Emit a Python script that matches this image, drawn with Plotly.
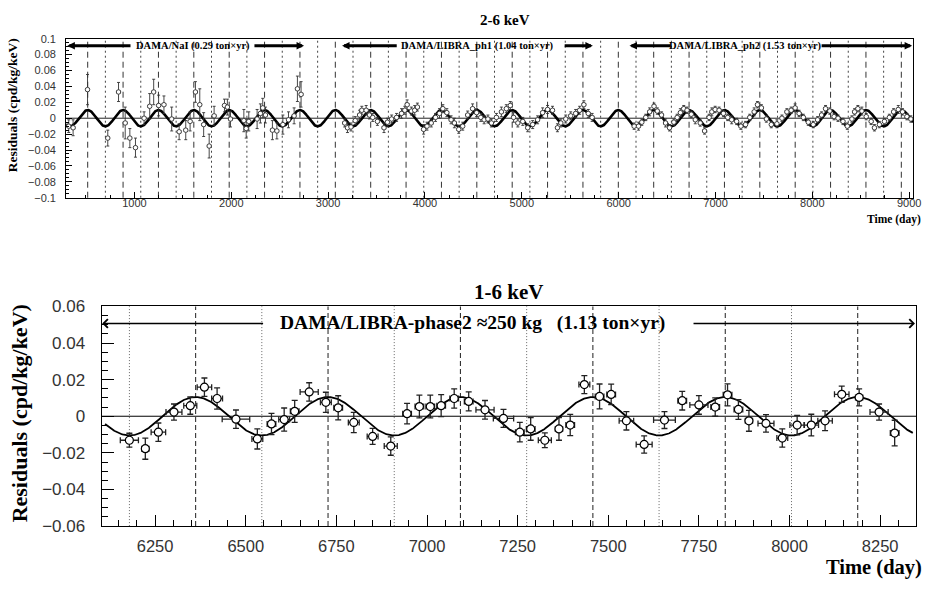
import numpy as np
import plotly.graph_objects as go

W, H = 931, 590
def PX(x): return x / W
def PY(y): return 1 - y / H

SERIF = "Liberation Serif"
SANS = "Liberation Sans"

# ---- model (fit) parameters ----
PERIOD = 365.25
PHASE = 152.5
AMP_TOP = 0.0102
AMP_BOT = 0.0105

# ---- axis ranges ----
TOP_XRANGE = [295, 9040]
BOT_XRANGE = [6103, 8349]

# ---- top panel data (2-6 keV) ----
nai_day = [322, 367, 516, 725, 836, 905, 953, 1011, 1100, 1158, 1199, 1250, 1305, 1385, 1462, 1530,
           1575, 1630, 1675, 1715, 1772, 1823, 1930, 1960, 1992, 2130, 2154, 2181, 2267, 2301, 2325,
           2353, 2425, 2471, 2533, 2591, 2649, 2683, 2721]
nai_res = [-0.010, -0.012, 0.036, -0.025, 0.033, -0.006, -0.025, -0.037, 0.000, 0.015, 0.033, 0.016,
           0.017, -0.001, -0.017, -0.015, -0.004, 0.033, 0.017, -0.008, -0.035, 0.003, 0.016, 0.014,
           -0.001, -0.003, -0.013, -0.004, -0.001, 0.006, 0.013, 0.004, -0.015, -0.016, -0.008,
           -0.002, 0.003, 0.037, 0.030]
nai_err = [0.008, 0.010, 0.019, 0.010, 0.012, 0.020, 0.012, 0.012, 0.008, 0.016, 0.016, 0.013, 0.011,
           0.015, 0.010, 0.012, 0.012, 0.013, 0.020, 0.015, 0.015, 0.012, 0.008, 0.010, 0.010, 0.014,
           0.012, 0.012, 0.012, 0.012, 0.012, 0.010, 0.012, 0.010, 0.012, 0.010, 0.010, 0.016, 0.016]

ph1_day = [3171, 3200, 3236, 3280, 3325, 3348, 3393, 3427, 3461, 3509, 3577, 3612, 3656, 3707, 3758,
           3792, 3816, 3860, 3894, 3922, 3986, 4021, 4065, 4109, 4150, 4185, 4226, 4270, 4304, 4349,
           4390, 4441, 4492, 4533, 4577, 4611, 4650, 4686, 4738, 4789, 4840, 4881, 4915, 4959, 5010,
           5061, 5112, 5163, 5215, 5266, 5317, 5368, 5403, 5454, 5505, 5556, 5597, 5641, 5686, 5726]
ph1_res = [-0.006, -0.012, -0.011, -0.003, 0.004, 0.010, 0.010, 0.004, 0.001, -0.004, -0.012, -0.005,
           -0.001, 0.001, 0.006, 0.010, 0.017, 0.009, 0.010, 0.014, -0.014, -0.010, -0.006, 0.001,
           0.006, 0.012, 0.007, -0.002, -0.006, -0.014, -0.010, 0.004, 0.012, 0.007, 0.001, -0.002,
           -0.001, -0.006, 0.001, 0.008, 0.012, 0.016, 0.001, -0.006, -0.004, -0.012, -0.008, -0.002,
           0.007, 0.011, 0.010, -0.012, -0.006, -0.001, 0.003, 0.006, 0.010, 0.017, 0.006, 0.001]
ph1_err = [0.005, 0.006, 0.005, 0.005, 0.006, 0.005, 0.006, 0.005, 0.005, 0.005, 0.006, 0.005, 0.005,
           0.005, 0.006, 0.005, 0.006, 0.005, 0.006, 0.005, 0.006, 0.005, 0.005, 0.005, 0.006, 0.005,
           0.005, 0.005, 0.006, 0.005, 0.005, 0.005, 0.006, 0.005, 0.005, 0.005, 0.005, 0.005, 0.005,
           0.006, 0.005, 0.005, 0.006, 0.005, 0.005, 0.005, 0.005, 0.005, 0.006, 0.005, 0.005, 0.005,
           0.005, 0.005, 0.005, 0.005, 0.005, 0.005, 0.005, 0.005]

ph2_day = [6160, 6205, 6239, 6280, 6320, 6365, 6399, 6443, 6484, 6525, 6570, 6604, 6637, 6672, 6706,
           6750, 6791, 6842, 6887, 6934, 6962, 6996, 7037, 7082, 7126, 7167, 7218, 7262, 7310, 7354,
           7399, 7433, 7474, 7525, 7576, 7634, 7686, 7737, 7781, 7822, 7863, 7907, 7958, 8009, 8054,
           8095, 8136, 8180, 8224, 8265, 8316, 8361, 8408, 8436, 8470, 8511, 8556, 8607, 8641, 8692,
           8744, 8795, 8839, 8887, 8931, 8976, 9017]
ph2_res = [-0.010, -0.010, -0.005, 0.001, 0.008, 0.015, 0.009, 0.004, -0.006, -0.012, -0.005, 0.001,
           0.007, 0.012, 0.010, 0.005, -0.002, -0.006, -0.016, 0.001, 0.008, 0.011, 0.010, 0.006,
           0.001, -0.002, -0.004, -0.010, -0.008, 0.001, 0.008, 0.017, 0.013, -0.001, -0.008, -0.007,
           0.000, 0.008, 0.010, 0.013, 0.006, 0.001, -0.005, -0.008, -0.002, 0.004, 0.012, 0.009,
           0.002, 0.000, -0.004, -0.010, -0.001, 0.008, 0.012, 0.009, 0.002, -0.004, -0.012, -0.008,
           -0.004, 0.001, 0.008, 0.011, 0.008, 0.002, -0.001]
ph2_err = [0.004, 0.005, 0.004, 0.004, 0.005, 0.004, 0.004, 0.004, 0.005, 0.004, 0.004, 0.004, 0.005,
           0.004, 0.004, 0.004, 0.005, 0.004, 0.004, 0.004, 0.005, 0.004, 0.004, 0.004, 0.004, 0.005,
           0.004, 0.004, 0.004, 0.004, 0.005, 0.004, 0.004, 0.004, 0.004, 0.005, 0.004, 0.004, 0.004,
           0.005, 0.004, 0.004, 0.004, 0.004, 0.004, 0.004, 0.004, 0.004, 0.004, 0.004, 0.004, 0.004,
           0.004, 0.004, 0.004, 0.005, 0.004, 0.004, 0.004, 0.004, 0.004, 0.004, 0.004, 0.005, 0.004,
           0.004, 0.004]

# ---- bottom panel data (1-6 keV, DAMA/LIBRA-phase2) ----
bot_day = [6179, 6223, 6259, 6302, 6347, 6386, 6421, 6473, 6532, 6571, 6606, 6635, 6675, 6721, 6755,
           6798, 6850, 6900, 6945, 6979, 7009, 7039, 7075, 7115, 7160, 7211, 7256, 7286, 7325, 7364,
           7395, 7434, 7476, 7508, 7550, 7599, 7655, 7704, 7750, 7795, 7829, 7859, 7888, 7935, 7980,
           8021, 8060, 8098, 8144, 8192, 8247, 8290]
bot_res = [-0.0131, -0.0177, -0.0087, 0.0023, 0.0058, 0.0159, 0.0097, -0.0016, -0.0124, -0.0042,
           -0.0018, 0.0027, 0.0133, 0.0076, 0.0046, -0.0034, -0.0110, -0.0163, 0.0014, 0.0053,
           0.0053, 0.0058, 0.0097, 0.0081, 0.0035, -0.0012, -0.0087, -0.0069, -0.0131, -0.0069,
           -0.0048, 0.0173, 0.0108, 0.0119, -0.0025, -0.0154, -0.0021, 0.0085, 0.0062, 0.0050,
           0.0117, 0.0037, -0.0025, -0.0039, -0.0119, -0.0048, -0.0048, -0.0025, 0.0120, 0.0103,
           0.0023, -0.0092]
bot_yerr = [0.0038, 0.0058, 0.0050, 0.0044, 0.0047, 0.0050, 0.0058, 0.0050, 0.0055, 0.0058, 0.0063,
            0.0060, 0.0050, 0.0055, 0.0066, 0.0055, 0.0044, 0.0050, 0.0056, 0.0062, 0.0062, 0.0060,
            0.0053, 0.0052, 0.0051, 0.0049, 0.0053, 0.0062, 0.0040, 0.0062, 0.0058, 0.0049, 0.0068,
            0.0056, 0.0050, 0.0047, 0.0046, 0.0051, 0.0051, 0.0050, 0.0060, 0.0054, 0.0057, 0.0048,
            0.0050, 0.0053, 0.0059, 0.0054, 0.0044, 0.0046, 0.0044, 0.0070]
bot_xerr = [25, 10, 20, 22, 18, 20, 15, 38, 15, 12, 15, 12, 25, 15, 12, 15, 15, 18, 12, 12, 12, 12,
            12, 12, 25, 28, 12, 12, 18, 10, 12, 15, 12, 12, 20, 22, 30, 12, 25, 12, 12, 12, 10, 22,
            15, 20, 20, 20, 20, 10, 25, 12]

TOP_XERR = 18

# tick label definitions
top_xticks = [1000, 2000, 3000, 4000, 5000, 6000, 7000, 8000, 9000]
top_yticks = [-0.1, -0.08, -0.06, -0.04, -0.02, 0, 0.02, 0.04, 0.06, 0.08, 0.1]
bot_xticks = [6250, 6500, 6750, 7000, 7250, 7500, 7750, 8000, 8250]
bot_yticks = [-0.06, -0.04, -0.02, 0, 0.02, 0.04, 0.06]

fig = go.Figure()

# model curves
t_top = np.linspace(TOP_XRANGE[0], TOP_XRANGE[1], 3000)
fig.add_trace(go.Scatter(x=t_top, y=AMP_TOP * np.cos(2 * np.pi * (t_top - PHASE) / PERIOD),
                         mode="lines", line=dict(color="black", width=2.6),
                         xaxis="x", yaxis="y", hoverinfo="skip"))
t_bot = np.linspace(6112, 8340, 1500)
fig.add_trace(go.Scatter(x=t_bot, y=AMP_BOT * np.cos(2 * np.pi * (t_bot - PHASE) / PERIOD),
                         mode="lines", line=dict(color="black", width=1.8),
                         xaxis="x2", yaxis="y2", hoverinfo="skip"))

# top data points
for d, r, e in [(nai_day, nai_res, nai_err), (ph1_day, ph1_res, ph1_err), (ph2_day, ph2_res, ph2_err)]:
    fig.add_trace(go.Scatter(
        x=d, y=r, mode="markers",
        marker=dict(symbol="circle", size=4.5, color="white", line=dict(color="#333", width=0.9)),
        error_y=dict(type="data", array=e, visible=True, color="#333", thickness=0.9, width=1.5),
        error_x=dict(type="constant", value=TOP_XERR, visible=True, color="#333", thickness=0.9, width=1.5),
        xaxis="x", yaxis="y"))

# bottom data points
fig.add_trace(go.Scatter(
    x=bot_day, y=bot_res, mode="markers",
    marker=dict(symbol="circle", size=8, color="white", line=dict(color="black", width=1.2)),
    error_y=dict(type="data", array=bot_yerr, visible=True, color="#222", thickness=1.3, width=3),
    error_x=dict(type="data", array=bot_xerr, visible=True, color="#222", thickness=1.3, width=3),
    xaxis="x2", yaxis="y2"))

shapes = []
# zero lines
shapes.append(dict(type="line", xref="x domain", yref="y", x0=0, x1=1, y0=0, y1=0,
                   line=dict(color="#222", width=1), layer="below"))
shapes.append(dict(type="line", xref="x2 domain", yref="y2", x0=0, x1=1, y0=0, y1=0,
                   line=dict(color="black", width=1), layer="below"))
# vertical reference lines (June 2 maxima dashed, Dec 2 minima dotted)
for n in range(0, 26):
    peak = PHASE + n * PERIOD
    trough = peak + PERIOD / 2
    if TOP_XRANGE[0] < peak < TOP_XRANGE[1]:
        shapes.append(dict(type="line", xref="x", yref="y domain", x0=peak, x1=peak, y0=0, y1=1,
                           line=dict(color="#333", width=1, dash="6px,4px"), layer="below"))
    if TOP_XRANGE[0] + 60 < trough < TOP_XRANGE[1]:
        shapes.append(dict(type="line", xref="x", yref="y domain", x0=trough, x1=trough, y0=0, y1=1,
                           line=dict(color="#444", width=1, dash="2px,3px"), layer="below"))
    if BOT_XRANGE[0] < peak < BOT_XRANGE[1]:
        shapes.append(dict(type="line", xref="x2", yref="y2 domain", x0=peak, x1=peak, y0=0, y1=1,
                           line=dict(color="#333", width=1.1, dash="5px,3px"), layer="below"))
    if BOT_XRANGE[0] < trough < BOT_XRANGE[1]:
        shapes.append(dict(type="line", xref="x2", yref="y2 domain", x0=trough, x1=trough, y0=0, y1=1,
                           line=dict(color="#666", width=1, dash="1px,2px"), layer="below"))

ann = []
def txt(x, y, s, size, xanchor="center", angle=0, family=SERIF, bold=True):
    ann.append(dict(x=PX(x), y=PY(y), xref="paper", yref="paper", text=("<b>%s</b>" % s) if bold else s,
                    showarrow=False, xanchor=xanchor, yanchor="middle", textangle=angle,
                    font=dict(family=family, size=size, color="black")))

def arrow(xh, xt, y, xr, yr, width, head, size):
    ann.append(dict(x=xh, y=y, ax=xt, ay=y, xref=xr, yref=yr, axref=xr, ayref=yr, text="",
                    showarrow=True, arrowhead=head, arrowwidth=width, arrowsize=size,
                    arrowcolor="black", standoff=0, startstandoff=0))

# top panel texts
txt(509, 11, "2-6 keV", 15)
txt(12.5, 99, "Residuals (cpd/kg/keV)", 13.5, angle=-90)
txt(931, 218, "Time (day)", 11.5, xanchor="right")
ARROW_Y_TOP = 0.0912
labels_top = [("DAMA/NaI (0.29 ton×yr)", 1610, 308, 975, 2224, 2752),
              ("DAMA/LIBRA_ph1 (1.04 ton×yr)", 4543, 3144, 3724, 5427, 5734),
              ("DAMA/LIBRA_ph2 (1.53 ton×yr)", 7305, 6112, 6552, 8080, 9030)]
for s, xc, lh, lt, rt, rh in labels_top:
    ann.append(dict(x=xc, y=ARROW_Y_TOP, xref="x", yref="y", text="<b>%s</b>" % s, showarrow=False,
                    font=dict(family=SERIF, size=10.5, color="black")))
    arrow(lh, lt, ARROW_Y_TOP, "x", "y", 3, 2, 0.5)
    arrow(rh, rt, ARROW_Y_TOP, "x", "y", 3, 2, 0.5)

# bottom panel texts
txt(513, 292, "1-6 keV", 21)
txt(20, 418, "Residuals (cpd/kg/keV)", 22, angle=-90)
txt(932, 577, "Time (day)", 20.5, xanchor="right")
ARROW_Y_BOT = 0.0507
ann.append(dict(x=7125, y=ARROW_Y_BOT, xref="x2", yref="y2",
                text="<b>DAMA/LIBRA-phase2 ≈250 kg\u00a0\u00a0\u00a0(1.13 ton×yr)</b>", showarrow=False,
                font=dict(family=SERIF, size=19.5, color="black")))
arrow(6104, 6552, ARROW_Y_BOT, "x2", "y2", 1.4, 4, 1.2)
arrow(8346, 7731, ARROW_Y_BOT, "x2", "y2", 1.4, 4, 1.2)

axis_common = dict(showgrid=False, zeroline=False, showline=True, mirror=True, linecolor="black",
                   ticks="inside", tickcolor="black")

fig.update_layout(
    width=W, height=H, margin=dict(l=0, r=0, t=0, b=0),
    paper_bgcolor="white", plot_bgcolor="white", showlegend=False,
    shapes=shapes, annotations=ann,
    xaxis=dict(axis_common, domain=[PX(66.7), PX(921)], anchor="y", range=TOP_XRANGE,
               tickmode="array", tickvals=top_xticks, ticklen=6, tickwidth=1, linewidth=1,
               minor=dict(dtick=250, tick0=0, ticks="inside", ticklen=3, tickcolor="black"),
               tickfont=dict(family=SANS, size=11, color="#333"), ticklabelstandoff=-5),
    yaxis=dict(axis_common, domain=[PY(195), PY(30.7)], anchor="x", range=[-0.1, 0.1],
               tickmode="array", tickvals=top_yticks, ticklen=6, tickwidth=1, linewidth=1,
               minor=dict(dtick=0.005, tick0=0, ticks="inside", ticklen=3, tickcolor="black"),
               tickfont=dict(family=SANS, size=11, color="#333"), ticklabelstandoff=7),
    xaxis2=dict(axis_common, domain=[PX(102.7), PX(924)], anchor="y2", range=BOT_XRANGE,
                tickmode="array", tickvals=bot_xticks, ticklen=11, tickwidth=1.2, linewidth=1.4,
                minor=dict(dtick=50, tick0=0, ticks="inside", ticklen=6, tickcolor="black"),
                tickfont=dict(family=SANS, size=16.5, color="#333"), ticklabelstandoff=5),
    yaxis2=dict(axis_common, domain=[PY(534.3), PY(307.3)], anchor="x2", range=[-0.06, 0.06],
                tickmode="array", tickvals=bot_yticks, ticklen=12, tickwidth=1.2, linewidth=1.4,
                minor=dict(dtick=0.005, tick0=0, ticks="inside", ticklen=6, tickcolor="black"),
                tickfont=dict(family=SANS, size=17, color="#333"), ticklabelstandoff=12),
)

fig.write_html("out.html")
